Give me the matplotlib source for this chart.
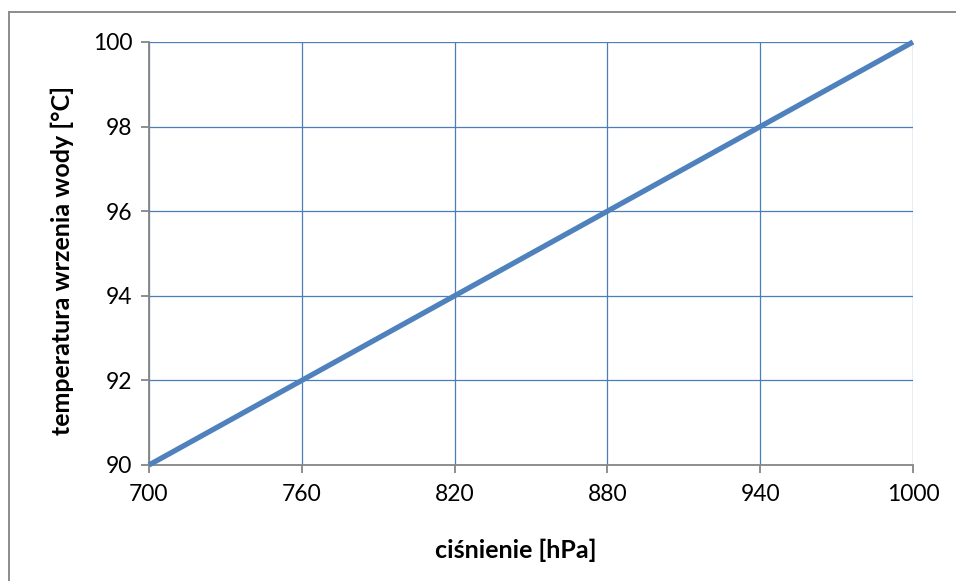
"""Boiling point of water versus pressure (Excel-style line chart)."""

import matplotlib

matplotlib.use("Agg")
import matplotlib.pyplot as plt
from matplotlib.lines import Line2D

pressure_hpa = [700, 760, 820, 880, 940, 1000]
boiling_temp_c = [90, 92, 94, 96, 98, 100]
x_ticks = [700, 760, 820, 880, 940, 1000]
y_ticks = [90, 92, 94, 96, 98, 100]

plt.rcParams["font.family"] = ["Lato", "DejaVu Sans"]

W, H = 956, 581
fig = plt.figure(figsize=(W / 100, H / 100), dpi=100)
ax = fig.add_axes([149 / W, 1 - 465 / H, (913 - 149) / W, (465 - 42) / H])

grid_color = "#4A7EBB"
axis_color = "#868686"

ax.plot(pressure_hpa, boiling_temp_c, color="#4F81BD", linewidth=3.8,
        solid_capstyle="butt", zorder=3, clip_on=False)

ax.set_xlim(700, 1000)
ax.set_ylim(90, 100)
ax.set_xticks(x_ticks)
ax.set_yticks(y_ticks)
ax.grid(True, color=grid_color, linewidth=0.9)
ax.set_axisbelow(True)

for side in ("top", "right"):
    ax.spines[side].set_visible(False)
for side in ("left", "bottom"):
    ax.spines[side].set_color(axis_color)
    ax.spines[side].set_linewidth(1.3)
    ax.spines[side].set_zorder(2.5)

ax.tick_params(axis="both", direction="out", length=6, width=1.3,
               color=axis_color, labelsize=16.5, labelcolor="black")
ax.tick_params(axis="x", pad=8)
ax.tick_params(axis="y", pad=6)

ax.set_xlabel("ciśnienie [hPa]", fontsize=18, fontweight="bold")
ax.set_ylabel("temperatura wrzenia wody [°C]", fontsize=18, fontweight="bold")
plot_w, plot_h = 913 - 149, 465 - 42
ax.xaxis.set_label_coords((516 - 149) / plot_w, -(550 - 465) / plot_h)
ax.yaxis.set_label_coords(-(149 - 62) / plot_w, (465 - 260) / plot_h)
ax.xaxis.label.set_va("center")
ax.yaxis.label.set_va("center")

# partial outer frame (top and left edges visible)
fig.add_artist(Line2D([9 / W, 9 / W], [0, 1 - 12 / H], color="#8C8C8C", linewidth=1.4))
fig.add_artist(Line2D([9 / W, 1], [1 - 12 / H, 1 - 12 / H], color="#8C8C8C", linewidth=1.4))

fig.savefig("out.png", dpi=100, facecolor="white")
